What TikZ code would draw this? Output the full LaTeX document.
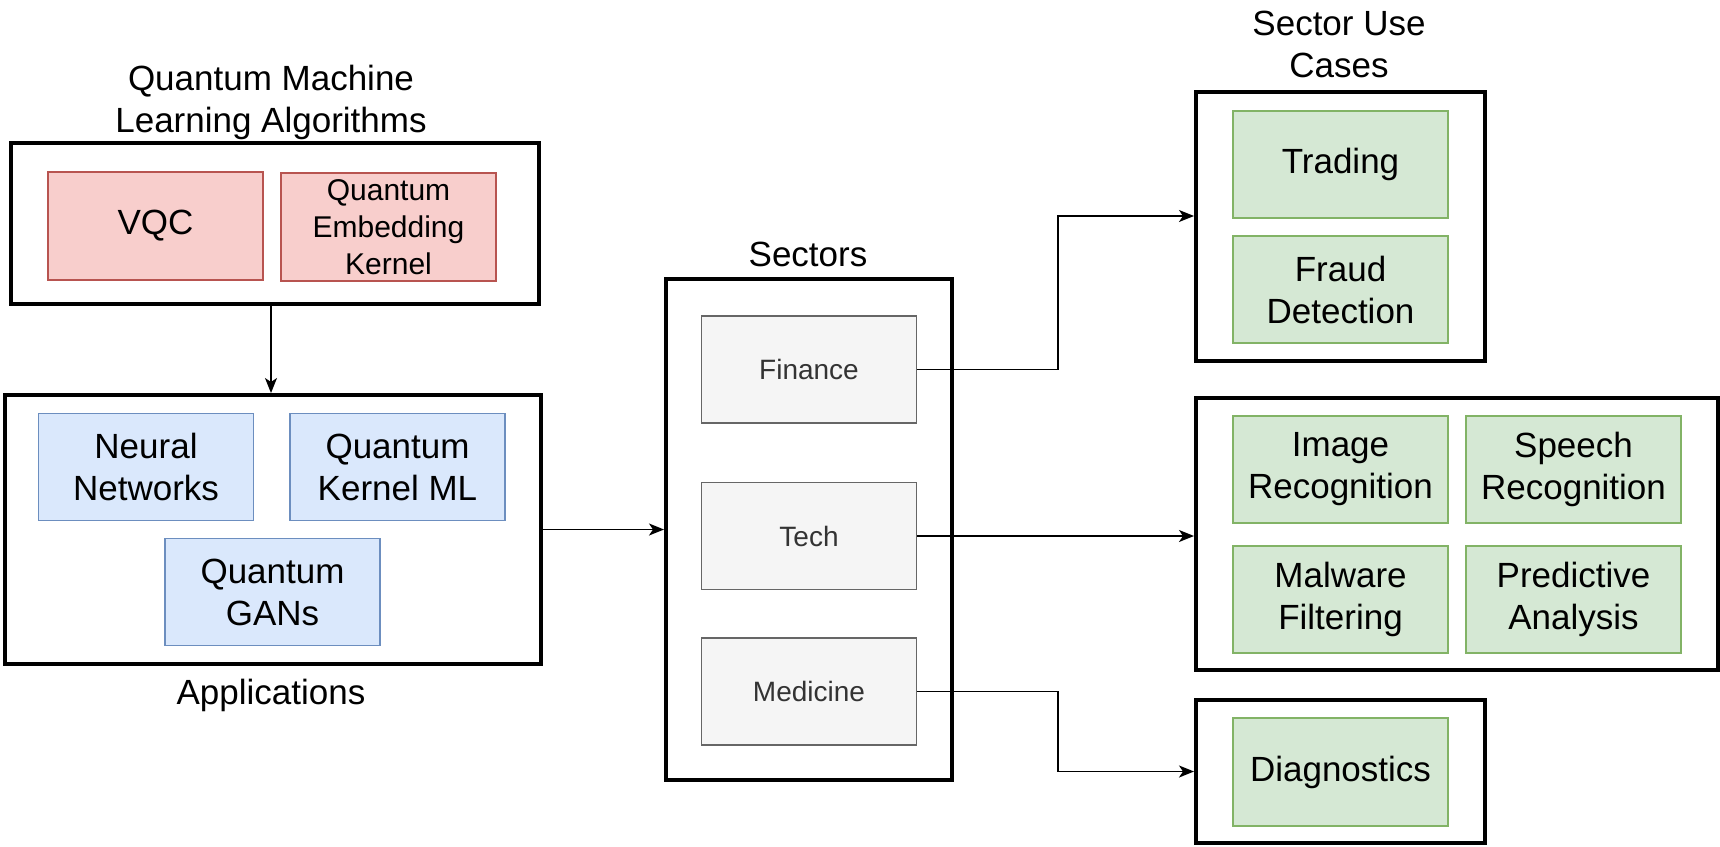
\documentclass[tikz,border=0pt]{standalone}
\usepackage{fontspec}
\setmainfont{Liberation Sans}
\usetikzlibrary{arrows.meta}
\definecolor{redF}{HTML}{F8CECC}
\definecolor{redS}{HTML}{B85450}
\definecolor{bluF}{HTML}{DAE8FC}
\definecolor{bluS}{HTML}{6C8EBF}
\definecolor{grnF}{HTML}{D5E8D4}
\definecolor{grnS}{HTML}{82B366}
\definecolor{gryF}{HTML}{F5F5F5}
\definecolor{gryS}{HTML}{666666}
\definecolor{gryT}{HTML}{333333}
\newcommand{\fbig}{\fontsize{35}{42}\selectfont}
\newcommand{\fqek}{\fontsize{30}{37}\selectfont}
\newcommand{\fsec}{\fontsize{28}{34}\selectfont}
\tikzset{
  outerbox/.style={draw=black, line width=4pt, inner sep=0pt},
  inbox/.style={line width=1.3pt, inner sep=0pt, minimum width=215pt, minimum height=107pt, align=center, font=\fbig},
  redbox/.style={inbox, draw=redS, fill=redF},
  blubox/.style={inbox, draw=bluS, fill=bluF},
  grnbox/.style={inbox, draw=grnS, fill=grnF},
  grybox/.style={inbox, draw=gryS, fill=gryF, text=gryT, font=\fsec},
  title/.style={align=center, font=\fbig, inner sep=0pt},
  conn/.style={line width=1.5pt, -{Stealth[length=15pt, width=12pt, inset=4pt]}}
}
\begin{document}
\begin{tikzpicture}[x=1pt,y=-1pt]
\useasboundingbox[fill=white] (0,0) rectangle (1720,846);

% Quantum ML algorithms
\node[title] (qmlt) at (271,102) {Quantum Machine\\Learning Algorithms};
\node[outerbox, minimum width=528pt, minimum height=161pt] (qml) at (275,223.5) {};
\node[redbox, minimum height=108pt] (vqc) at (155.5,226) {VQC};
\node[redbox, minimum height=108pt, font=\fqek] (qek) at (388.5,227) {Quantum\\Embedding\\Kernel};

% Applications
\node[outerbox, minimum width=536pt, minimum height=269pt] (apps) at (273,529.5) {};
\node[blubox] (nn) at (146,467) {Neural\\Networks};
\node[blubox] (qkml) at (397.5,467) {Quantum\\Kernel ML};
\node[blubox] (qgan) at (272.5,592) {Quantum\\GANs};
\node[title] (appst) at (271,695) {Applications};

\draw[conn] (qml.south -| 271,0) -- (apps.north -| 271,0);

% Sectors
\node[title] (sect) at (808,254) {Sectors};
\node[outerbox, minimum width=286pt, minimum height=501pt] (sectors) at (809,529.5) {};
\node[grybox] (fin) at (809,369.5) {Finance};
\node[grybox] (tech) at (809,536) {Tech};
\node[grybox] (med) at (809,691.5) {Medicine};

\draw[conn] (apps.east) -- (apps.east -| sectors.west);

% Sector use cases
\node[title] (uset) at (1339,44) {Sector Use\\Cases};
\node[outerbox, minimum width=289pt, minimum height=269pt] (fuse) at (1340.5,226.5) {};
\node[grnbox] (trading) at (1340.5,164.5) {Trading};
\node[grnbox] (fraud) at (1340.5,289.5) {Fraud\\Detection};

\node[outerbox, minimum width=522pt, minimum height=272pt] (tuse) at (1457,534) {};
\node[grnbox] (imgrec) at (1340.5,469.5) {Image\\Recognition};
\node[grnbox] (speech) at (1573.5,469.5) {Speech\\Recognition};
\node[grnbox] (malw) at (1340.5,599.5) {Malware\\Filtering};
\node[grnbox] (pred) at (1573.5,599.5) {Predictive\\Analysis};

\node[outerbox, minimum width=289pt, minimum height=143pt] (duse) at (1340.5,771.5) {};
\node[grnbox, minimum height=108pt] (diag) at (1340.5,772) {Diagnostics};

\draw[conn] (fin.east) -- ++(141,0) |- ([yshift=10.5pt]fuse.west);
\draw[conn] (tech.east) -- (tech.east -| tuse.west);
\draw[conn] (med.east) -- ++(141,0) |- (duse.west);
\end{tikzpicture}
\end{document}
